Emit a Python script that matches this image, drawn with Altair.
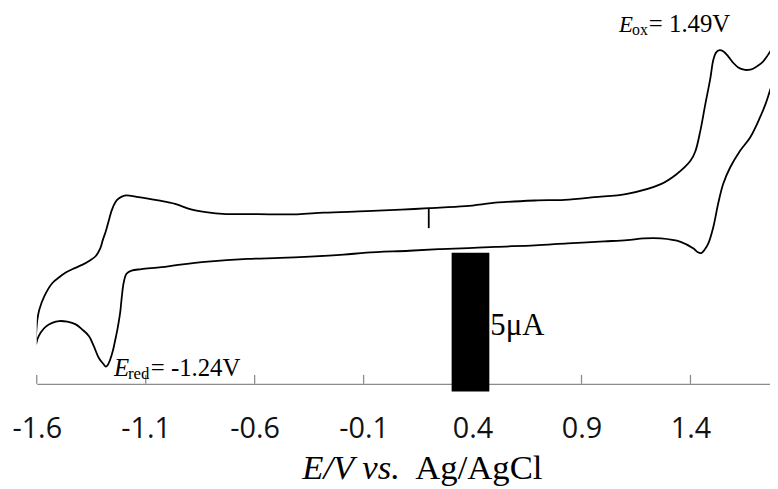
import altair as alt
import pandas as pd

# ---- Cyclic voltammogram (E in V vs Ag/AgCl, I in microamps, offset arbitrary) ----
# forward (upper) branch, left vertex -> right vertex
E_fwd = [-1.603, -1.597, -1.588, -1.565, -1.529, -1.497, -1.465, -1.429, -1.392, -1.356,
         -1.329, -1.308, -1.297, -1.283, -1.269, -1.256, -1.240, -1.224, -1.197, -1.133,
         -1.042, -0.965, -0.892, -0.815, -0.746, -0.587, -0.405, -0.283, -0.087, 0.072,
         0.199, 0.368, 0.518, 0.686, 0.822, 0.959, 1.109, 1.264, 1.336, 1.400,
         1.423, 1.445, 1.468, 1.491, 1.505, 1.518, 1.534, 1.550, 1.573, 1.596,
         1.618, 1.641, 1.664, 1.687, 1.709, 1.732, 1.750, 1.768, 1.805]
I_fwd = [1.786, 2.321, 2.679, 3.161, 3.625, 3.839, 4.018, 4.161, 4.286, 4.446,
         4.607, 4.893, 5.179, 5.500, 5.893, 6.250, 6.536, 6.679, 6.786, 6.732,
         6.607, 6.482, 6.286, 6.179, 6.125, 6.114, 6.107, 6.168, 6.221, 6.275,
         6.329, 6.404, 6.536, 6.607, 6.632, 6.725, 6.846, 7.196, 7.554, 8.036,
         8.393, 9.107, 10.071, 11.000, 11.679, 11.946, 12.025, 11.982, 11.804, 11.571,
         11.411, 11.329, 11.311, 11.357, 11.464, 11.607, 11.786, 12.000, 12.357]
# reverse (lower) branch, right vertex -> left vertex
E_rev = [1.805, 1.768, 1.746, 1.718, 1.673, 1.627, 1.582, 1.550, 1.527, 1.505,
         1.482, 1.464, 1.450, 1.432, 1.414, 1.355, 1.264, 1.186, 1.109, 1.004,
         0.836, 0.686, 0.505, 0.381, 0.254, 0.109, -0.087, -0.192, -0.346, -0.483,
         -0.633, -0.815, -0.951, -1.028, -1.119, -1.165, -1.188, -1.201, -1.210, -1.217,
         -1.228, -1.239, -1.251, -1.262, -1.274, -1.283, -1.294, -1.315, -1.338, -1.360,
         -1.392, -1.421, -1.460, -1.497, -1.529, -1.557, -1.581, -1.597, -1.603, -1.603]
I_rev = [11.464, 10.643, 10.118, 9.582, 8.868, 8.393, 7.796, 7.204, 6.489, 5.654,
         5.061, 4.821, 4.714, 4.750, 4.875, 5.118, 5.239, 5.239, 5.179, 5.132,
         5.061, 4.989, 4.939, 4.893, 4.857, 4.796, 4.725, 4.654, 4.582, 4.536,
         4.500, 4.404, 4.286, 4.204, 4.132, 4.082, 3.964, 3.643, 3.107, 2.571,
         2.036, 1.607, 1.179, 0.893, 0.679, 0.618, 0.714, 0.929, 1.357, 1.714,
         1.964, 2.143, 2.239, 2.261, 2.196, 2.071, 1.857, 1.607, 1.429, 1.786]

tick_values = [-1.6, -1.1, -0.6, -0.1, 0.4, 0.9, 1.4]

# scale bar (5 uA) and the small marker on the upper trace
bar_E = [0.304, 0.477]
bar_I = [-0.28, 4.72]
marker_E = [0.199]
marker_I = [5.61, 6.32]

E_ox_text = "= 1.49V"
E_red_text = "= -1.24V"
scale_text = "5\u03bcA"

# ---- tables ----
cv = pd.DataFrame({
    "E": E_fwd + E_rev,
    "I": I_fwd + I_rev,
    "k": list(range(len(E_fwd) + len(E_rev))),
})
ticks = pd.DataFrame({"E": tick_values, "I": [0.0] * len(tick_values),
                      "I2": [0.32] * len(tick_values)})
bar = pd.DataFrame({"E": [bar_E[0]], "E2": [bar_E[1]], "I": [bar_I[0]], "I2": [bar_I[1]]})
marker = pd.DataFrame({"E": marker_E, "I": [marker_I[0]], "I2": [marker_I[1]]})

X_MIN, X_MAX = -1.6, 1.765
Y_MIN, Y_MAX = 0.0, 13.464
W, H = 740, 377

xscale = alt.Scale(domain=[X_MIN, X_MAX], nice=False, zero=False)
yscale = alt.Scale(domain=[Y_MIN, Y_MAX], nice=False, zero=False)

x_axis = alt.Axis(values=tick_values, title=None, grid=False,
                  labelExpr="datum.value < 0 ? '-' + format(-datum.value, '.1f') : format(datum.value, '.1f')",
                  ticks=False, tickSize=0, domainColor="#8c8c8c", domainWidth=1.3,
                  labelFont="Open Sans", labelFontSize=29, labelColor="#111111",
                  labelPadding=31, labelFlush=False, labelOverlap=False, labelBound=False)

X = alt.X("E:Q", scale=xscale, axis=x_axis)
Y = alt.Y("I:Q", scale=yscale, axis=None)

line = alt.Chart(cv).mark_line(color="black", strokeWidth=1.8, clip=True,
                               interpolate="catmull-rom").encode(
    x=X, y=Y, order="k:Q")

tick_rules = alt.Chart(ticks).mark_rule(color="#8c8c8c", strokeWidth=1.3).encode(
    x=X, y=Y, y2="I2:Q")

marker_rule = alt.Chart(marker).mark_rule(color="black", strokeWidth=1.8).encode(
    x=X, y=Y, y2="I2:Q")

bar_rect = alt.Chart(bar).mark_rect(color="black").encode(
    x=X, x2="E2:Q", y=Y, y2="I2:Q")

def txt(E, I, text, size, italic=False, dx=0, dy=0, font="Liberation Serif", align="left"):
    d = pd.DataFrame({"E": [E], "I": [I], "t": [text]})
    kw = dict(font=font, fontSize=size, align=align, baseline="alphabetic",
              dx=dx, dy=dy, color="black")
    if italic:
        kw["fontStyle"] = "italic"
    return alt.Chart(d).mark_text(**kw).encode(x=X, y=Y, text="t:N")

# annotation anchors (left end of the baseline)
ox_E, ox_I = 1.0726, 12.68
red_E, red_I = -1.245, 0.296

annotations = [
    txt(ox_E, ox_I, "E", 23, italic=True),
    txt(ox_E, ox_I, "ox", 16, dx=13, dy=3),
    txt(ox_E, ox_I, E_ox_text, 25, dx=30),
    txt(red_E, red_I, "E", 25, italic=True),
    txt(red_E, red_I, "red", 17, dx=14, dy=3),
    txt(red_E, red_I, E_red_text, 25, dx=37),
    txt(0.477, 1.75, scale_text, 31, dx=1),
]

title_df = pd.DataFrame({"t": ["E/V vs.", "Ag/AgCl"]})
title_it = alt.Chart(title_df.iloc[[0]]).mark_text(
    font="Liberation Serif", fontSize=35, fontStyle="italic", align="left",
    baseline="alphabetic", color="black").encode(
    x=alt.value(268), y=alt.value(473), text="t:N")
title_rg = alt.Chart(title_df.iloc[[1]]).mark_text(
    font="Liberation Serif", fontSize=35, align="left",
    baseline="alphabetic", color="black").encode(
    x=alt.value(382), y=alt.value(473), text="t:N")

chart = alt.layer(line, tick_rules, marker_rule, bar_rect, *annotations, title_it, title_rg).properties(
    width=W, height=H,
    padding={"left": 29, "top": 0, "right": 0, "bottom": 115},
    autosize=alt.AutoSizeParams(type="none"),
    background="white",
).configure_view(stroke=None)

chart.save("out.html", embed_options={"renderer": "svg", "actions": False})
